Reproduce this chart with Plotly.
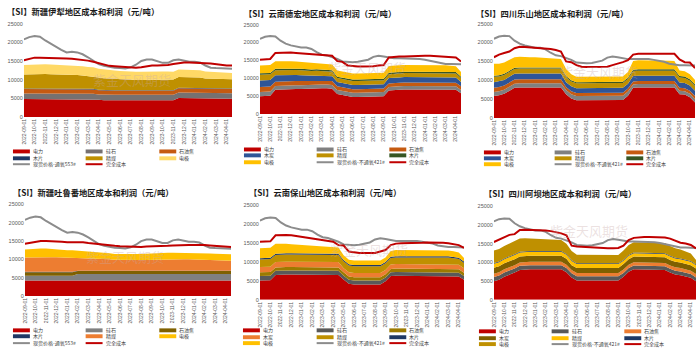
import plotly.graph_objects as go

W, H = 700, 353

dates = ["2022-09-01","2022-09-16","2022-10-01","2022-10-16","2022-11-01","2022-11-16","2022-12-01","2022-12-16",
         "2023-01-01","2023-01-16","2023-02-01","2023-02-16","2023-03-01","2023-03-16","2023-04-01","2023-04-16",
         "2023-05-01","2023-05-16","2023-06-01","2023-06-16","2023-07-01","2023-07-16","2023-08-01","2023-08-16",
         "2023-09-01","2023-09-16","2023-10-01","2023-10-16","2023-11-01","2023-11-16","2023-12-01","2023-12-16",
         "2024-01-01","2024-01-16","2024-02-01","2024-02-16","2024-03-01","2024-03-16","2024-04-01","2024-04-16"]

price553 = [20800,21400,21700,21500,20500,19600,18800,18000,17300,17500,17300,16800,16000,15000,14200,13700,13400,13200,13100,13000,
            13300,14000,15000,15400,15400,15000,14500,14500,15200,15400,15000,14800,14800,14600,13800,13200,13100,13000,13000,12900]
price421 = [21000,21600,21800,21700,20500,19700,19200,18900,18600,18600,18200,17300,16600,16400,16000,15400,14700,14500,14500,14600,
            14800,15200,16000,16300,16100,15800,15600,15600,15600,15600,15600,15400,15200,14900,14400,14100,14000,14000,13900,13900]

# ---- Panel 1: 新疆伊犁
p1_power = [4800,4800,4800,4800,4800,4800,4800,4800,4800,4800,4800,4800,4700,4700,4600,4500,4500,4500,4500,4500,
            4500,4500,4500,4500,4500,4500,4500,4500,4500,5100,5100,5100,5100,5100,4900,4900,4900,4900,4900,4900]
p1_silica = [1500,1500,1500,1500,1500,1500,1500,1500,1500,1500,1500,1500,1500,1500,1450,1450,1450,1450,1450,1450,
             1450,1450,1450,1450,1450,1450,1450,1450,1450,1450,1450,1450,1450,1450,1450,1450,1450,1450,1450,1450]
p1_coke = [1200,1200,1200,1200,1200,1200,1200,1200,1200,1200,1200,1200,1200,1200,1100,1100,1100,1100,1100,1100,
           1100,1100,1100,1100,1100,1100,1100,1100,1100,1150,1150,1150,1150,1150,1150,1150,1150,1150,1150,1150]
p1_chips = [150,150,150,150,150,150,150,150,150,150,150,150,150,150,150,150,150,150,150,150,
            150,150,150,150,150,150,150,150,150,150,150,150,150,150,150,150,150,150,150,150]
p1_coal = [3750,3800,3850,3850,3850,3800,3800,3750,3700,3650,3600,3500,3450,3350,3250,3150,3050,2950,2850,2750,
           2700,2700,2700,2750,2800,2800,2800,2800,2850,2850,2850,2850,2800,2750,2650,2600,2550,2500,2450,2450]
p1_elec = [2500,2550,2600,2600,2600,2600,2550,2550,2500,2500,2450,2450,2400,2400,2350,2350,2300,2300,2300,2300,
           2300,2250,2250,2250,2250,2200,2200,2200,2100,2050,2000,2000,2000,1950,1900,1850,1800,1750,1700,1700]
p1_cost = [15200,15600,15900,15900,15900,15900,15900,15800,15700,15600,15500,15300,15100,14800,14400,14000,13700,13600,13500,13500,
           13300,13200,13300,13600,13800,13800,13800,13900,14200,14500,14600,14600,14600,14600,14400,14300,14100,13900,13800,13800]

# ---- Panel 2: 云南德宏
p2_power = [5000,5000,5100,6800,6900,6900,6900,7000,7000,7100,7100,7200,7200,7200,7100,5600,5300,4900,4800,4800,
            4800,4800,4900,4900,5000,6600,6800,6800,6900,6900,7000,7000,7000,7000,7000,7000,7000,6900,6800,5800]
p2_silica = [1200,1200,1200,1050,1050,1050,1050,1050,1050,1050,1050,1050,1050,1050,1050,1150,1150,1150,1150,1150,
             1150,1150,1150,1150,1150,950,950,950,950,950,950,950,950,950,950,950,950,950,950,950]
p2_coke = [1400,1400,1400,1200,1200,1200,1200,1200,1200,1100,1100,1100,1100,1100,1100,1000,1000,1000,1000,1000,
           1000,1000,1000,1000,1000,1000,1000,1000,1000,1000,1000,1000,1000,1000,1000,1000,1000,1000,1000,1000]
p2_charcoal = [1800,1800,1800,1800,1750,1750,1700,1650,1600,1550,1500,1450,1400,1350,1300,1200,1200,1200,1200,1200,
               1200,1200,1200,1200,1200,1500,1500,1500,1500,1500,1500,1500,1500,1500,1500,1500,1500,1500,1500,1200]
p2_coal = [1600,1600,1600,1400,1400,1400,1400,1400,1400,1300,1300,1300,1300,1300,1300,1100,1100,1100,1100,1100,
           1100,1100,1100,1100,1100,1100,1100,1100,1100,1100,1100,1100,1100,1100,1100,1100,1100,1100,1100,1100]
p2_chips = [400,400,400,400,400,400,400,400,400,400,400,400,400,400,400,400,400,400,400,400,
            400,400,400,400,400,400,400,400,400,400,400,400,400,400,400,400,400,400,400,400]
p2_elec = [2200,2200,2200,2100,2100,2100,2100,2000,1950,1900,1850,1800,1700,1650,1600,1700,1700,1700,1700,1700,
           1700,1700,1700,1700,1700,1900,1900,1900,1900,1900,1900,1900,1900,1900,1800,1750,1700,1650,1600,1300]
p2_cost = [15200,15300,15400,17100,17200,17200,17200,17100,17000,16900,16900,16800,16700,16500,16300,14800,14600,13600,13400,13300,
           13300,13300,13400,13600,13700,15800,16000,16100,16100,16200,16200,16300,16300,16300,16200,16200,16100,16000,15800,14700]

# ---- Panel 3: 四川乐山
p3_power = [5800,6000,6400,7200,8000,8100,8100,8100,8100,8100,8100,8100,8100,8100,6300,5200,4700,4700,4700,4700,
            4700,4700,4700,4700,4700,4800,5900,8000,8100,8100,8100,8100,8100,8100,8100,8100,6300,6200,5500,4100]
p3_silica = [1100,1100,1100,1100,1100,1100,1100,1100,1100,1100,1100,1100,1100,1100,1100,1100,1100,1100,1100,1100,
             1100,1100,1100,1100,1100,1100,1100,900,900,900,900,900,900,900,900,900,900,900,900,900]
p3_coke = [1100,1100,1100,1100,1100,1100,1100,1100,1100,1100,1100,1100,1100,1100,800,800,800,800,800,800,
           800,800,800,800,800,800,800,800,800,800,800,800,800,800,800,800,800,800,800,800]
p3_charcoal = [1500,1500,1500,1500,1500,1500,1500,1500,1500,1500,1500,1500,1500,1500,1300,1300,1300,1300,1300,1300,
               1300,1300,1300,1300,1300,1300,1300,1400,1400,1400,1400,1400,1400,1400,1400,1400,1400,1400,1400,1400]
p3_coal = [1400,1300,1300,1300,1300,1300,1300,1300,1300,1300,1300,1300,1300,1300,1300,1300,1300,1300,1300,1300,
           1300,1300,1300,1300,1300,1300,1300,1300,1300,1300,1300,1300,1300,1300,1300,1300,1300,1300,1300,1300]
p3_chips = [300,300,300,300,300,300,300,300,300,300,300,300,300,300,300,300,300,300,300,300,
            300,300,300,300,300,300,300,400,400,400,400,400,400,400,400,400,400,400,400,400]
p3_elec = [3200,3100,3000,2900,2800,2800,2700,2700,2700,2600,2500,2400,2300,2200,1900,1600,1400,1400,1400,1400,
           1400,1400,1400,1400,1400,1400,1500,2300,2400,2400,2400,2400,2400,2400,2300,2200,1500,1400,1300,1200]
p3_cost = [16100,16800,17200,17600,18500,18900,18800,18700,18700,18600,18500,18300,18000,17600,15000,14800,14000,13600,13500,13500,
           13500,13500,13600,14000,14300,14800,15300,16800,17000,17000,17000,17000,17100,17100,17000,17000,15500,14800,14700,13200]

# ---- Panel 4: 新疆吐鲁番
p4_power = [4200,4200,4200,4200,4200,4200,4200,4200,4200,4200,4200,4200,4200,4200,4200,4200,4200,4200,4200,4200,
            4200,4200,4200,4200,4200,4200,4200,4200,4200,4200,4200,4200,4200,4200,4200,4200,4200,4200,4200,4200]
p4_silica = [1300,1300,1300,1300,1300,1300,1300,1300,1300,1300,1800,1800,1800,1800,1800,1800,1800,1800,1800,1800,
             1800,1800,1800,1800,1800,1800,1800,1800,1800,1800,1800,1800,1800,1800,1800,1800,1800,1800,1800,1800]
p4_coke = [1000,1000,1000,1000,1000,1000,1000,1000,1000,1000,800,800,800,800,800,800,800,800,800,800,
           800,800,800,800,800,800,800,800,800,800,800,800,800,800,800,800,800,800,800,800]
p4_chips = [100,100,100,100,100,100,100,100,100,100,100,100,100,100,100,100,100,100,100,100,
            100,100,100,100,100,100,100,100,100,100,100,100,100,100,100,100,100,100,100,100]
p4_coal = [3900,3950,4000,4000,4000,3950,3950,3900,3900,3900,3600,3550,3500,3400,3300,3200,3100,3000,2950,2900,
           2900,2900,2900,2950,3000,3050,3100,3100,3100,3100,3100,3100,3050,3000,2950,2900,2850,2800,2750,2700]
p4_elec = [2200,2300,2400,2400,2400,2300,2200,2100,2000,2000,1900,1900,1850,1800,1750,1700,1650,1600,1600,1600,
           1600,1600,1650,1700,1750,1800,1800,1800,1800,1800,1800,1800,1800,1800,1800,1800,1800,1800,1800,1800]
p4_cost = [14300,14600,14900,15000,15000,15000,14900,14800,14700,14700,14800,14700,14500,14300,14100,13900,13800,13700,13600,13500,
           13400,13400,13400,13500,13500,13500,13600,13700,13800,13900,13900,13900,13900,14000,13900,13800,13700,13600,13500,13400]

# ---- Panel 5: 云南保山
p5_power = [5100,5100,5200,6600,6700,6700,6700,6700,6700,6700,6700,6700,6700,6700,6700,6600,5400,4300,4100,4100,
            4100,4100,4100,4100,4900,6300,6400,6400,6400,6400,6400,6400,6400,6400,6400,6400,6400,6300,6200,5300]
p5_silica = [1200,1200,1200,1100,1100,1100,1100,1100,1100,1100,1100,1100,1100,1100,1100,1100,1000,1000,1000,1000,
             1000,1000,1000,1000,1000,1000,1000,1000,1000,1000,1000,1000,1000,1000,1000,1000,1000,1000,1000,1000]
p5_coke = [1000,1000,1000,900,900,900,900,900,900,900,900,900,900,900,900,900,900,900,900,900,
           900,900,900,900,900,900,900,900,900,900,900,900,900,900,900,900,900,900,900,900]
p5_charcoal = [1400,1400,1400,1400,1400,1400,1400,1400,1400,1400,1400,1400,1400,1400,1400,1400,1100,1100,1100,1100,
               1100,1100,1100,1100,1100,1200,1200,1200,1200,1200,1200,1200,1200,1200,1200,1200,1200,1200,1200,1200]
p5_coal = [2000,2000,2000,1900,1900,1900,1900,1900,1900,1900,1900,1900,1900,1900,1900,1900,1800,1800,1800,1800,
           1800,1800,1800,1800,1800,1700,1700,1700,1700,1700,1700,1700,1700,1700,1700,1700,1700,1600,1500,1400]
p5_chips = [350,350,350,350,350,350,350,350,350,350,350,350,350,350,350,350,350,350,350,350,
            350,350,350,350,350,350,350,350,350,350,350,350,350,350,350,350,350,350,350,350]
p5_elec = [2650,2650,2650,2600,2600,2500,2400,2300,2200,2100,2000,1900,1800,1700,1600,1600,1300,1200,1150,1150,
           1150,1150,1150,1150,1200,1500,1650,1650,1650,1650,1650,1650,1650,1650,1600,1600,1550,1500,1400,950]
p5_cost = [15400,15400,15500,17100,17200,17200,17100,16900,16700,16500,16300,16100,15900,15700,15400,14500,14400,12800,12500,12400,
           12400,12400,12400,12800,13200,14500,14900,15000,15000,15000,15100,15100,15200,15200,15200,15100,15000,14700,14500,13800]

# ---- Panel 6: 四川阿坝
p6_power = [5000,5400,6200,6700,7300,8000,8200,8200,8200,8200,8200,8200,8200,8200,7400,6000,5200,5200,5200,5200,
            5200,5200,5200,5200,5200,6200,7500,8200,8200,8200,8200,8200,8200,8000,7300,6800,6600,6300,5900,5000]
p6_silica = [1100,1100,1100,1100,1100,1100,1100,1100,1100,1100,1100,1100,1100,1100,1100,1100,1100,1100,1100,1100,
             1100,1100,1100,1100,1100,1000,1000,1000,1000,1000,1000,1000,1000,1000,1000,1000,1000,1000,1000,1000]
p6_coke = [900,900,900,900,900,900,900,900,900,900,900,900,900,900,900,900,900,900,900,900,
           900,900,900,900,900,900,900,900,900,900,900,900,900,900,900,900,900,900,900,900]
p6_charcoal = [1600,1600,1600,1600,1600,1600,1600,1600,1600,1600,1600,1600,1600,1600,1600,1300,1300,1300,1300,1300,
               1300,1300,1300,1300,1300,1500,1500,1500,1500,1500,1500,1500,1500,1500,1500,1500,1500,1500,1500,1500]
p6_coal = [1100,1100,1100,1100,1100,1100,1100,1100,1100,1100,1100,1100,1100,1100,1100,1100,1100,1100,1100,1100,
           1100,1100,1100,1100,1100,900,900,900,900,900,900,900,900,900,900,900,900,900,900,900]
p6_chips = [200,200,200,200,200,200,200,200,200,200,200,200,200,200,200,200,200,200,200,200,
            200,200,200,200,200,200,200,200,200,200,200,200,200,200,200,200,200,200,200,200]
p6_elec = [3300,3300,3300,3400,3500,3500,3400,3300,3300,3200,3200,3100,3000,2900,2700,2500,2300,2300,2300,2300,
           2200,2200,2200,2200,2200,2500,2700,2700,2700,2700,2700,2700,2700,2700,2600,2500,2400,2200,2000,1200]
p6_cost = [15500,16200,16800,17400,17600,18700,18800,18800,18700,18600,18600,18400,18200,17800,17300,14500,14300,14200,14100,13900,
           13800,13800,13800,13800,13900,14500,16000,16600,16800,16800,16800,16800,16800,16700,16400,15800,15300,15100,14700,13800]

y_ticks = [0, 5000, 10000, 15000, 20000, 25000]

RED = "#C00000"
GRAY_LINE = "#8C8C8C"
FONT = "Noto Sans CJK SC"

panels = [
    dict(title="【SI】新疆伊犁地区成本和利润（元/吨）", tpos=(2, 8),
         areas=[("电力", p1_power, RED), ("硅石", p1_silica, "#767171"), ("石油焦", p1_coke, "#C55A11"),
                ("木片", p1_chips, "#1F3864"), ("精煤", p1_coal, "#BF9000"), ("电极", p1_elec, "#FFD966")],
         price=("现货价格-通氧553#", price553), cost=("完全成本", p1_cost),
         box=(21, 230, 21, 116), rows=[151, 158, 164], cols=[10, 83, 157], wm=(130, 78)),
    dict(title="【SI】云南德宏地区成本和利润（元/吨）", tpos=(240, 10),
         areas=[("电力", p2_power, RED), ("硅石", p2_silica, "#808080"), ("石油焦", p2_coke, "#C55A11"),
                ("木炭", p2_charcoal, "#2F5597"), ("精煤", p2_coal, "#BF9000"), ("木片", p2_chips, "#375623"),
                ("电极", p2_elec, "#FFC000")],
         price=("现货价格-不通氧421#", price421), cost=("完全成本", p2_cost),
         box=(258, 460, 22, 113), rows=[149, 155, 162], cols=[242, 315, 388], wm=(366, 66)),
    dict(title="【SI】四川乐山地区成本和利润（元/吨）", tpos=(473, 10),
         areas=[("电力", p3_power, RED), ("硅石", p3_silica, "#808080"), ("石油焦", p3_coke, "#C55A11"),
                ("木炭", p3_charcoal, "#2F5597"), ("精煤", p3_coal, "#BF9000"), ("木片", p3_chips, "#375623"),
                ("电极", p3_elec, "#FFC000")],
         price=("现货价格-不通氧421#", price421), cost=("完全成本", p3_cost),
         box=(493, 695, 21, 117), rows=[152, 158, 164], cols=[483, 554, 626], wm=(599, 70)),
    dict(title="【SI】新疆吐鲁番地区成本和利润（元/吨）", tpos=(8, 192),
         areas=[("电力", p4_power, RED), ("硅石", p4_silica, "#808080"), ("石油焦", p4_coke, "#7F6000"),
                ("木片", p4_chips, "#1F3864"), ("精煤", p4_coal, "#ED7D31"), ("电极", p4_elec, "#FFC000")],
         price=("现货价格-通氧553#", price553), cost=("完全成本", p4_cost),
         box=(22, 229, 205, 298), rows=[333, 339, 346], cols=[10, 83, 157], wm=(123, 258)),
    dict(title="【SI】云南保山地区成本和利润（元/吨）", tpos=(245, 192),
         areas=[("电力", p5_power, RED), ("硅石", p5_silica, "#595959"), ("石油焦", p5_coke, "#9C7A00"),
                ("木炭", p5_charcoal, "#ED7D31"), ("精煤", p5_coal, "#BF9000"), ("木片", p5_chips, "#1F3864"),
                ("电极", p5_elec, "#FFC000")],
         price=("现货价格-不通氧421#", price421), cost=("完全成本", p5_cost),
         box=(258, 463, 206, 302), rows=[333, 340, 346], cols=[241, 315, 388], wm=(368, 251)),
    dict(title="【SI】四川阿坝地区成本和利润（元/吨）", tpos=(481, 193),
         areas=[("电力", p6_power, RED), ("硅石", p6_silica, "#595959"), ("石油焦", p6_coke, "#ED7D31"),
                ("木炭", p6_charcoal, "#7F6000"), ("精煤", p6_coal, "#FFC000"), ("木片", p6_chips, "#1F3864"),
                ("电极", p6_elec, "#BF9000")],
         price=("现货价格-不通氧421#", price421), cost=("完全成本", p6_cost),
         box=(493, 696, 207, 302), rows=[334, 341, 347], cols=[478, 551, 624], wm=(589, 231)),
]


def fx(x):
    return x / W


def fy(y):
    return 1 - y / H


fig = go.Figure()
shapes = []
annotations = []
layout = {}

for k, p in enumerate(panels):
    n = "" if k == 0 else str(k + 1)
    xa, ya = "x" + n, "y" + n
    for name, vals, color in p["areas"]:
        fig.add_trace(go.Scatter(x=dates, y=vals, name=name, mode="lines", stackgroup="s" + str(k),
                                 line=dict(width=0, color=color), fillcolor=color,
                                 xaxis=xa, yaxis=ya, showlegend=False))
    fig.add_trace(go.Scatter(x=dates, y=p["price"][1], name=p["price"][0], mode="lines",
                             line=dict(width=2, color=GRAY_LINE), xaxis=xa, yaxis=ya, showlegend=False))
    fig.add_trace(go.Scatter(x=dates, y=p["cost"][1], name=p["cost"][0], mode="lines",
                             line=dict(width=2, color=RED), xaxis=xa, yaxis=ya, showlegend=False))

    x0, x1, y0, y1 = p["box"]
    layout["xaxis" + n] = dict(domain=[fx(x0), fx(x1)], anchor=ya, type="category", range=[0, len(dates) - 1],
                               tickmode="array", tickvals=dates[::2], ticktext=dates[::2], tickangle=-90,
                               tickfont=dict(size=5, color="#595959", family="Liberation Sans"),
                               showgrid=False, zeroline=False, showline=False, ticks="")
    layout["yaxis" + n] = dict(domain=[fy(y1), fy(y0)], anchor=xa, range=[0, 25000],
                               tickmode="array", tickvals=y_ticks, ticktext=[str(v) for v in y_ticks],
                               tickfont=dict(size=5.5, color="#595959", family="Liberation Sans"),
                               showgrid=False, zeroline=False, showline=False, ticks="")

    # title
    tx, ty = p["tpos"]
    annotations.append(dict(x=fx(tx), y=fy(ty), xref="paper", yref="paper", xanchor="left", yanchor="middle",
                            text="<b>" + p["title"] + "</b>", showarrow=False,
                            font=dict(size=8.3, color="#1a1a1a", family=FONT)))
    # watermark
    wx, wy = p["wm"]
    annotations.append(dict(x=fx(wx), y=fy(wy), xref="paper", yref="paper", xanchor="center", yanchor="middle",
                            text="紫金天风期货", showarrow=False,
                            font=dict(size=13, color="rgba(200,170,170,0.35)", family=FONT)))

    # legend (manual, 3 columns)
    items = [(nm, c, "area") for nm, _, c in p["areas"]] + [(p["price"][0], GRAY_LINE, "line"), (p["cost"][0], RED, "line")]
    for j, (nm, c, kind) in enumerate(items):
        r, cidx = divmod(j, 3)
        ly = p["rows"][r]
        lx = p["cols"][cidx]
        if kind == "area":
            shapes.append(dict(type="rect", xref="paper", yref="paper", x0=fx(lx), x1=fx(lx + 17),
                               y0=fy(ly + 2), y1=fy(ly - 2), fillcolor=c, line=dict(width=0)))
        else:
            shapes.append(dict(type="line", xref="paper", yref="paper", x0=fx(lx), x1=fx(lx + 17),
                               y0=fy(ly), y1=fy(ly), line=dict(width=2, color=c)))
        annotations.append(dict(x=fx(lx + 19), y=fy(ly), xref="paper", yref="paper", xanchor="left",
                                yanchor="middle", text=nm, showarrow=False, borderpad=0,
                                font=dict(size=5, color="#404040", family=FONT)))

fig.update_layout(width=W, height=H, margin=dict(l=0, r=0, t=0, b=0), autosize=False,
                  paper_bgcolor="white", plot_bgcolor="white", showlegend=False,
                  shapes=shapes, annotations=annotations, **layout)

fig.write_html("out.html")
